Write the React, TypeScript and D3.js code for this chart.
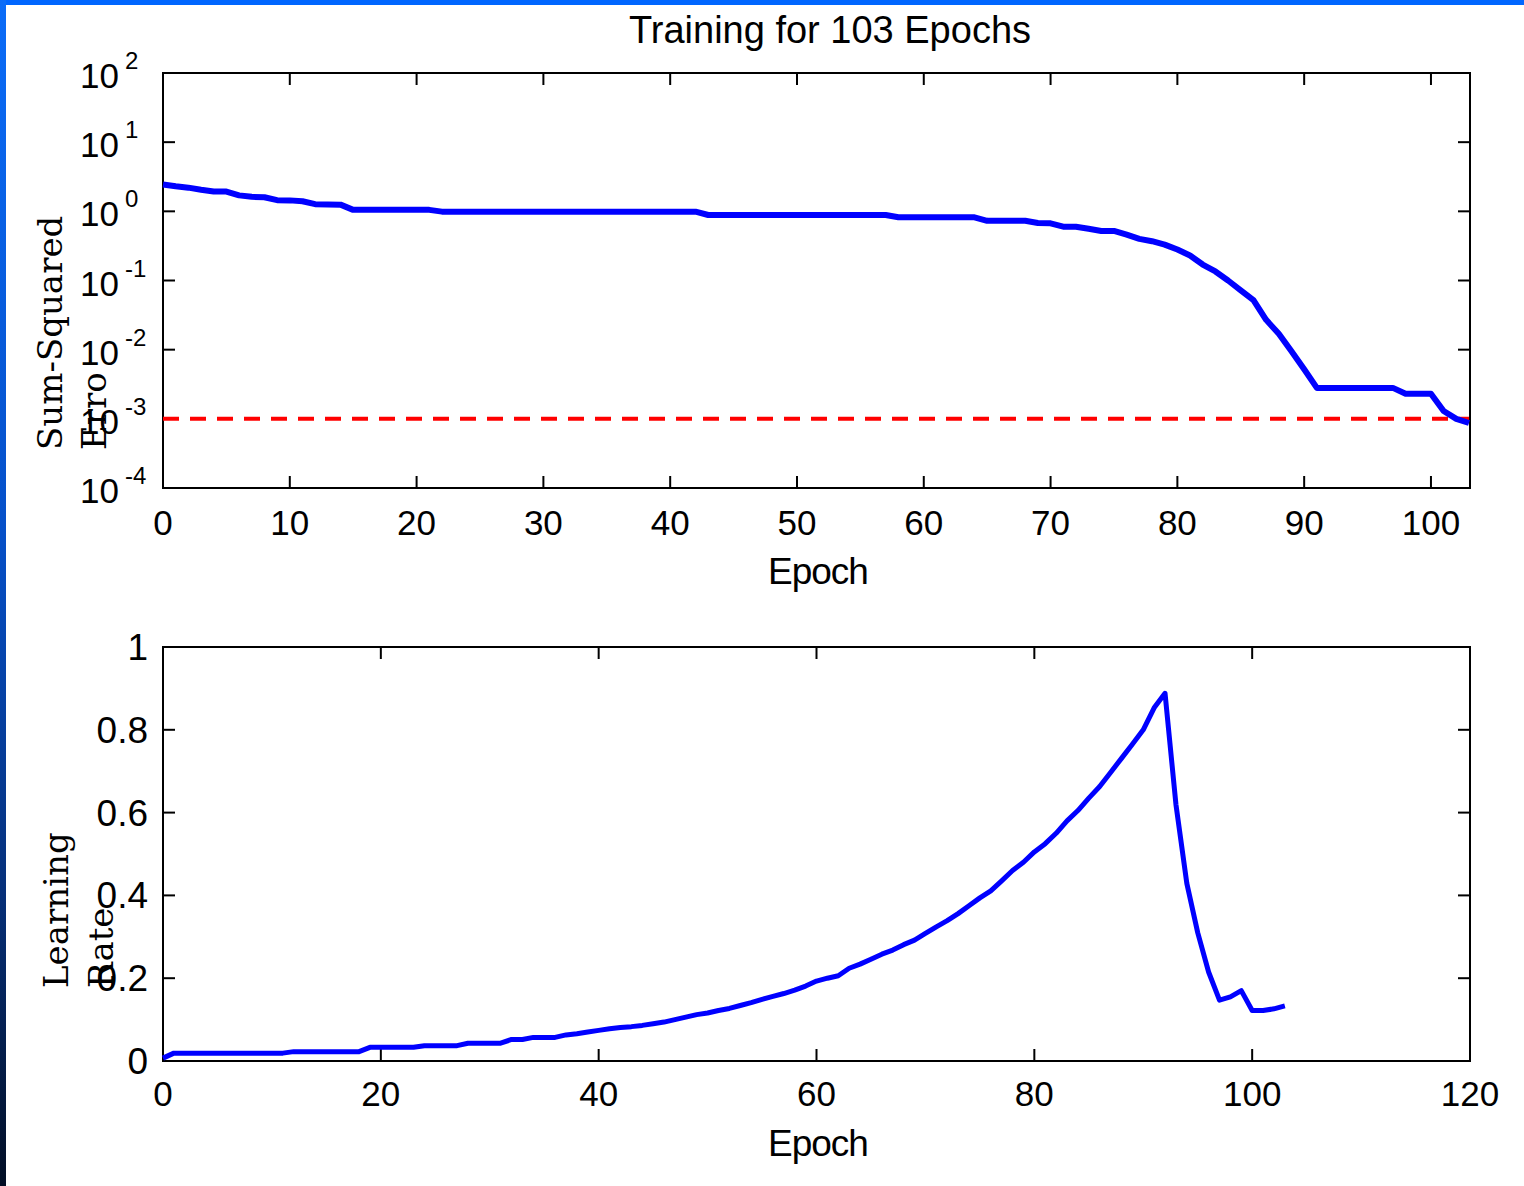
import { useEffect, useRef } from 'react';
import * as d3 from 'd3';

// sum-squared error per epoch (0..103)
const sseValues = [
  2.45, 2.3, 2.2, 2.05, 1.93, 1.93, 1.7, 1.62, 1.6, 1.45, 1.44, 1.4, 1.27, 1.26, 1.25, 1.05,
  1.05, 1.05, 1.05, 1.05, 1.05, 1.05,
  0.99, 0.99, 0.99, 0.99, 0.99, 0.99, 0.99, 0.99, 0.99, 0.99, 0.99, 0.99, 0.99, 0.99, 0.99, 0.99, 0.99, 0.99, 0.99, 0.99, 0.99,
  0.885, 0.885, 0.885, 0.885, 0.885, 0.885, 0.885, 0.885, 0.885, 0.885, 0.885, 0.885, 0.885, 0.885, 0.885,
  0.82, 0.82, 0.82, 0.82, 0.82, 0.82, 0.82,
  0.73, 0.73, 0.73, 0.73,
  0.68, 0.67, 0.6, 0.6, 0.56, 0.52, 0.52, 0.46, 0.4, 0.37, 0.33, 0.28, 0.23, 0.17, 0.135, 0.1,
  0.072, 0.052, 0.027, 0.017, 0.0095, 0.0052, 0.0028,
  0.0028, 0.0028, 0.0028, 0.0028, 0.0028, 0.0028,
  0.0023, 0.0023, 0.0023,
  0.0013, 0.001, 0.00087,
];

// learning rate per epoch (0..103)
const lrValues = [
  0.007, 0.019,
  0.019, 0.019, 0.019, 0.019, 0.019, 0.019, 0.019, 0.019, 0.019, 0.019,
  0.0226, 0.0226, 0.0226, 0.0226, 0.0226, 0.0226, 0.0226,
  0.033, 0.033, 0.033, 0.033, 0.033,
  0.037, 0.037, 0.037, 0.037,
  0.043, 0.043, 0.043, 0.043,
  0.052, 0.052,
  0.057, 0.057, 0.057,
  0.063, 0.066, 0.07, 0.074, 0.078, 0.081, 0.083, 0.086, 0.09, 0.094,
  0.1, 0.106, 0.112, 0.116, 0.122, 0.127, 0.134, 0.141, 0.149, 0.156,
  0.163, 0.171, 0.181, 0.193, 0.2, 0.206, 0.224, 0.234, 0.246, 0.258,
  0.268, 0.281, 0.292, 0.308, 0.324, 0.339, 0.356, 0.375, 0.394, 0.411,
  0.435, 0.46, 0.48, 0.505, 0.525, 0.55, 0.58, 0.605, 0.635, 0.663,
  0.697, 0.731, 0.765, 0.8, 0.853, 0.888, 0.62, 0.429, 0.31, 0.215,
  0.147, 0.155, 0.17, 0.122, 0.122, 0.126, 0.133,
];

const errorGoal = 0.001;
const sseExponents = [-4, -3, -2, -1, 0, 1, 2];
const sseXTicks = [0, 10, 20, 30, 40, 50, 60, 70, 80, 90, 100];
const lrXTicks = [0, 20, 40, 60, 80, 100, 120];
const lrYTicks = [0, 0.2, 0.4, 0.6, 0.8, 1];

const SANS = '"Liberation Sans", Arial, sans-serif';
const SERIF = '"DejaVu Serif", serif';

const App = () => {
  const svgRef = useRef<SVGSVGElement>(null);

  useEffect(() => {
    const w = 1524;
    const h = 1186;
    const svg = d3.select(svgRef.current).attr('width', w).attr('height', h);
    svg.selectAll('*').remove();

    // frame decoration (blue slide edge)
    const defs = svg.append('defs');
    const grad = defs.append('linearGradient').attr('id', 'edge').attr('x1', 0).attr('y1', 0).attr('x2', 0).attr('y2', 1);
    grad.append('stop').attr('offset', '0%').attr('stop-color', '#0b6cf8');
    grad.append('stop').attr('offset', '45%').attr('stop-color', '#0650c8');
    grad.append('stop').attr('offset', '75%').attr('stop-color', '#06307a');
    grad.append('stop').attr('offset', '100%').attr('stop-color', '#020e24');
    svg.append('rect').attr('x', 0).attr('y', 0).attr('width', w).attr('height', h).attr('fill', '#fff');
    svg.append('rect').attr('x', 0).attr('y', 0).attr('width', w).attr('height', 5).attr('fill', '#0066ff');
    svg.append('rect').attr('x', 0).attr('y', 0).attr('width', 6).attr('height', h).attr('fill', 'url(#edge)');

    const epochs = d3.range(sseValues.length);
    const tick = 12;

    // ---------- top plot: sum-squared error ----------
    const x1 = d3.scaleLinear().domain([0, 103]).range([163, 1469]);
    const y1 = d3.scaleLog().domain([1e-4, 1e2]).range([488, 73]);
    const g1 = svg.append('g');

    g1.append('text')
      .attr('x', 830).attr('y', 43)
      .attr('text-anchor', 'middle')
      .style('font-family', SANS).style('font-size', '38px')
      .text('Training for 103 Epochs');

    sseXTicks.forEach(t => {
      const x = x1(t);
      g1.append('line').attr('x1', x).attr('x2', x).attr('y1', 488).attr('y2', 488 - tick).attr('stroke', '#000').attr('stroke-width', 2);
      g1.append('line').attr('x1', x).attr('x2', x).attr('y1', 73).attr('y2', 73 + tick).attr('stroke', '#000').attr('stroke-width', 2);
      g1.append('text').attr('x', x).attr('y', 535).attr('text-anchor', 'middle')
        .style('font-family', SANS).style('font-size', '35px').text(t);
    });

    sseExponents.forEach(e => {
      const y = y1(Math.pow(10, e));
      g1.append('line').attr('x1', 163).attr('x2', 163 + tick).attr('y1', y).attr('y2', y).attr('stroke', '#000').attr('stroke-width', 2);
      g1.append('line').attr('x1', 1470).attr('x2', 1470 - tick).attr('y1', y).attr('y2', y).attr('stroke', '#000').attr('stroke-width', 2);
      const txt = g1.append('text').attr('x', 80).attr('y', y + 15)
        .style('font-family', SANS).style('font-size', '35px');
      txt.append('tspan').text('10');
      txt.append('tspan').attr('dx', 6).attr('dy', -19).style('font-size', '24px').text(e);
    });

    g1.append('rect').attr('x', 163).attr('y', 73).attr('width', 1470 - 163).attr('height', 488 - 73)
      .attr('fill', 'none').attr('stroke', '#000').attr('stroke-width', 2);

    g1.append('text').attr('x', 818).attr('y', 584).attr('text-anchor', 'middle')
      .style('font-family', SANS).style('font-size', '37px').style('letter-spacing', '-1px').text('Epoch');

    const ylab1 = g1.append('text').attr('transform', 'translate(62,450) rotate(-90)')
      .style('font-family', SERIF).style('font-size', '34px');
    ylab1.append('tspan').attr('x', 0).attr('y', 0).text('Sum-Squared');
    ylab1.append('tspan').attr('x', 0).attr('y', 44).text('Erro');

    g1.append('line')
      .attr('x1', x1(0)).attr('x2', x1(103))
      .attr('y1', y1(errorGoal)).attr('y2', y1(errorGoal))
      .attr('stroke', '#ff0000').attr('stroke-width', 4).attr('stroke-dasharray', '16 11');

    const line1 = d3.line<number>().x((_, i) => x1(epochs[i])).y(d => y1(d));
    g1.append('path').datum(sseValues).attr('d', line1)
      .attr('fill', 'none').attr('stroke', '#0000ff').attr('stroke-width', 6).attr('stroke-linejoin', 'round');

    // ---------- bottom plot: learning rate ----------
    const x2 = d3.scaleLinear().domain([0, 120]).range([163, 1470]);
    const y2 = d3.scaleLinear().domain([0, 1]).range([1061, 647]);
    const g2 = svg.append('g');

    lrXTicks.forEach(t => {
      const x = x2(t);
      g2.append('line').attr('x1', x).attr('x2', x).attr('y1', 1061).attr('y2', 1061 - tick).attr('stroke', '#000').attr('stroke-width', 2);
      g2.append('line').attr('x1', x).attr('x2', x).attr('y1', 647).attr('y2', 647 + tick).attr('stroke', '#000').attr('stroke-width', 2);
      g2.append('text').attr('x', x).attr('y', 1106).attr('text-anchor', 'middle')
        .style('font-family', SANS).style('font-size', '35px').text(t);
    });

    lrYTicks.forEach(t => {
      const y = y2(t);
      g2.append('line').attr('x1', 163).attr('x2', 163 + tick).attr('y1', y).attr('y2', y).attr('stroke', '#000').attr('stroke-width', 2);
      g2.append('line').attr('x1', 1470).attr('x2', 1470 - tick).attr('y1', y).attr('y2', y).attr('stroke', '#000').attr('stroke-width', 2);
      g2.append('text').attr('x', 148).attr('y', y + 13).attr('text-anchor', 'end')
        .style('font-family', SANS).style('font-size', '37px').text(t);
    });

    g2.append('rect').attr('x', 163).attr('y', 647).attr('width', 1470 - 163).attr('height', 1061 - 647)
      .attr('fill', 'none').attr('stroke', '#000').attr('stroke-width', 2);

    g2.append('text').attr('x', 818).attr('y', 1156).attr('text-anchor', 'middle')
      .style('font-family', SANS).style('font-size', '37px').style('letter-spacing', '-1px').text('Epoch');

    const ylab2 = g2.append('text').attr('transform', 'translate(68,988) rotate(-90)')
      .style('font-family', SERIF).style('font-size', '34px');
    ylab2.append('tspan').attr('x', 0).attr('y', 0).text('Learning');
    ylab2.append('tspan').attr('x', 0).attr('y', 45).text('Rate');

    const line2 = d3.line<number>().x((_, i) => x2(epochs[i])).y(d => y2(d));
    g2.append('path').datum(lrValues).attr('d', line2)
      .attr('fill', 'none').attr('stroke', '#0000ff').attr('stroke-width', 5).attr('stroke-linejoin', 'round');
  }, []);

  return (
    <div>
      <svg ref={svgRef} style={{ position: 'absolute', left: 0, top: 0, display: 'block' }}></svg>
    </div>
  );
};

export default App;
